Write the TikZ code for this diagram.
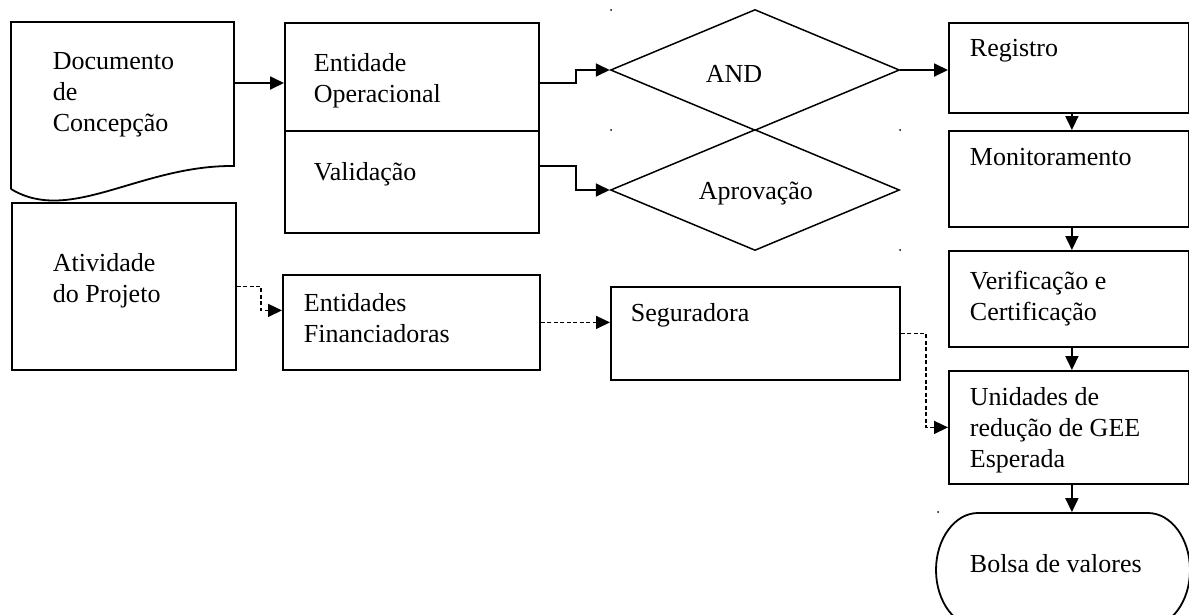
\documentclass[tikz,border=0pt]{standalone}
\usepackage{fontspec}
\setmainfont{Liberation Serif}
\usetikzlibrary{positioning,shapes.geometric,arrows.meta}

\begin{document}
\begin{tikzpicture}[x=1pt,y=-1pt,line width=1.8pt,font=\fontsize{26}{30.8}\selectfont]
    \tikzstyle{box}=[draw,rectangle,anchor=north west,inner sep=0pt]
    \tikzstyle{gate}=[draw,diamond,inner sep=0pt,minimum width=289pt,minimum height=121pt,line width=1.5pt]
    \tikzstyle{lbl}=[align=left,inner sep=0pt]
    \tikzstyle{flow}=[-{Triangle[length=14pt,width=13pt]}]
    \tikzstyle{loose}=[flow,line width=1.5pt,dash pattern=on 4pt off 2.5pt]

    \useasboundingbox (0,0) rectangle (1189,614);

    % Draw the document with its wavy bottom
    \coordinate (doc-nw) at (11,22);
    \draw (11,189) -- (doc-nw) -- (234,22) -- (234,166)
        .. controls (140,165) and (70,225) .. (11,189);
    \coordinate (doc-out) at (234,83);
    \node[lbl,below right=30pt and 41pt of doc-nw] (doc) {Documento\\de\\Concepção};

    % Draw the boxes of the left columns
    \node[box,minimum width=224pt,minimum height=167pt] (ativ) at (11,202) {};
    \node[box,minimum width=254pt,minimum height=108pt] (ent) at (284,22) {};
    \node[box,minimum width=254pt,minimum height=102pt] (val) at (284,130) {};
    \node[box,minimum width=257pt,minimum height=95pt] (fin) at (282,274) {};
    \node[box,minimum width=289pt,minimum height=93pt] (seg) at (610,286) {};

    % Draw the decisions
    \node[gate] (and) at (755,70) {};
    \node[gate] (apr) at (755,190) {};

    % Draw the column on the right
    \node[box,minimum width=240pt,minimum height=90pt] (reg) at (948,22) {};
    \node[box,minimum width=240pt,minimum height=96pt] (mon) at (948,130) {};
    \node[box,minimum width=240pt,minimum height=96pt] (ver) at (948,250) {};
    \node[box,minimum width=240pt,minimum height=113pt] (uni) at (948,370) {};

    % The terminal, cut by the bottom of the page
    \node[minimum width=254pt,minimum height=114pt,inner sep=0pt] (bolsa) at (1063,570) {};
    \draw (978,513) -- (1148,513) .. controls (1171,513) and (1190,538.5) .. (1190,570)
        .. controls (1190,601.5) and (1171,627) .. (1148,627) -- (978,627)
        .. controls (955,627) and (936,601.5) .. (936,570)
        .. controls (936,538.5) and (955,513) .. cycle;

    % Texts
    \node[lbl,below right=51pt and 41pt of ativ.north west] (ativ-t) {Atividade\\do Projeto};
    \node[lbl,below right=31pt and 29pt of ent.north west] (ent-t) {Entidade\\Operacional};
    \node[lbl,below right=32pt and 29pt of val.north west] (val-t) {Validação};
    \node[lbl,below right=19pt and 21pt of fin.north west] (fin-t) {Entidades\\Financiadoras};
    \node[lbl,below right=17pt and 20pt of seg.north west] (seg-t) {Seguradora};
    \node[lbl,anchor=north west] (and-t) at (705,64) {AND};
    \node[lbl,anchor=north west] (apr-t) at (698,181) {Aprovação};
    \node[lbl,below right=16pt and 21pt of reg.north west] (reg-t) {Registro};
    \node[lbl,below right=17pt and 21pt of mon.north west] (mon-t) {Monitoramento};
    \node[lbl,below right=20pt and 21pt of ver.north west] (ver-t) {Verificação e\\Certificação};
    \node[lbl,below right=17pt and 21pt of uni.north west] (uni-t) {Unidades de\\redução de GEE\\Esperada};
    \node[lbl,anchor=north west] (bolsa-t) at (969,554) {Bolsa de valores};

    % Connect the boxes
    \draw[flow] (doc-out) -- (doc-out -| ent.west);
    \draw[flow] ([yshift=-6pt]ent.east) -- ++(36,0) |- (and.west);
    \draw[flow] ([yshift=16pt]val.east) -- ++(36,0) |- (apr.west);
    \draw[flow] (and.east) -- (and.east -| reg.west);
    \foreach \source/\dest in {reg/mon,mon/ver,ver/uni,uni/bolsa}
        \draw[flow] ([xshift=3pt]\source.south) -- ([xshift=3pt]\source.south |- \dest.north);

    % Dashed links
    \draw[loose] (ativ.east) -- ++(24,0) |- ([yshift=12pt]fin.west);
    \draw[loose] (fin.east) -- (fin.east -| seg.west);
    \draw[loose] (seg.east) -- ++(25,0) |- (uni.west);

    % Small marks
    \foreach \x/\y in {611/10,611/130,900/130,900/250,938/512}
        \fill (\x,\y) circle (1pt);
\end{tikzpicture}
\end{document}
